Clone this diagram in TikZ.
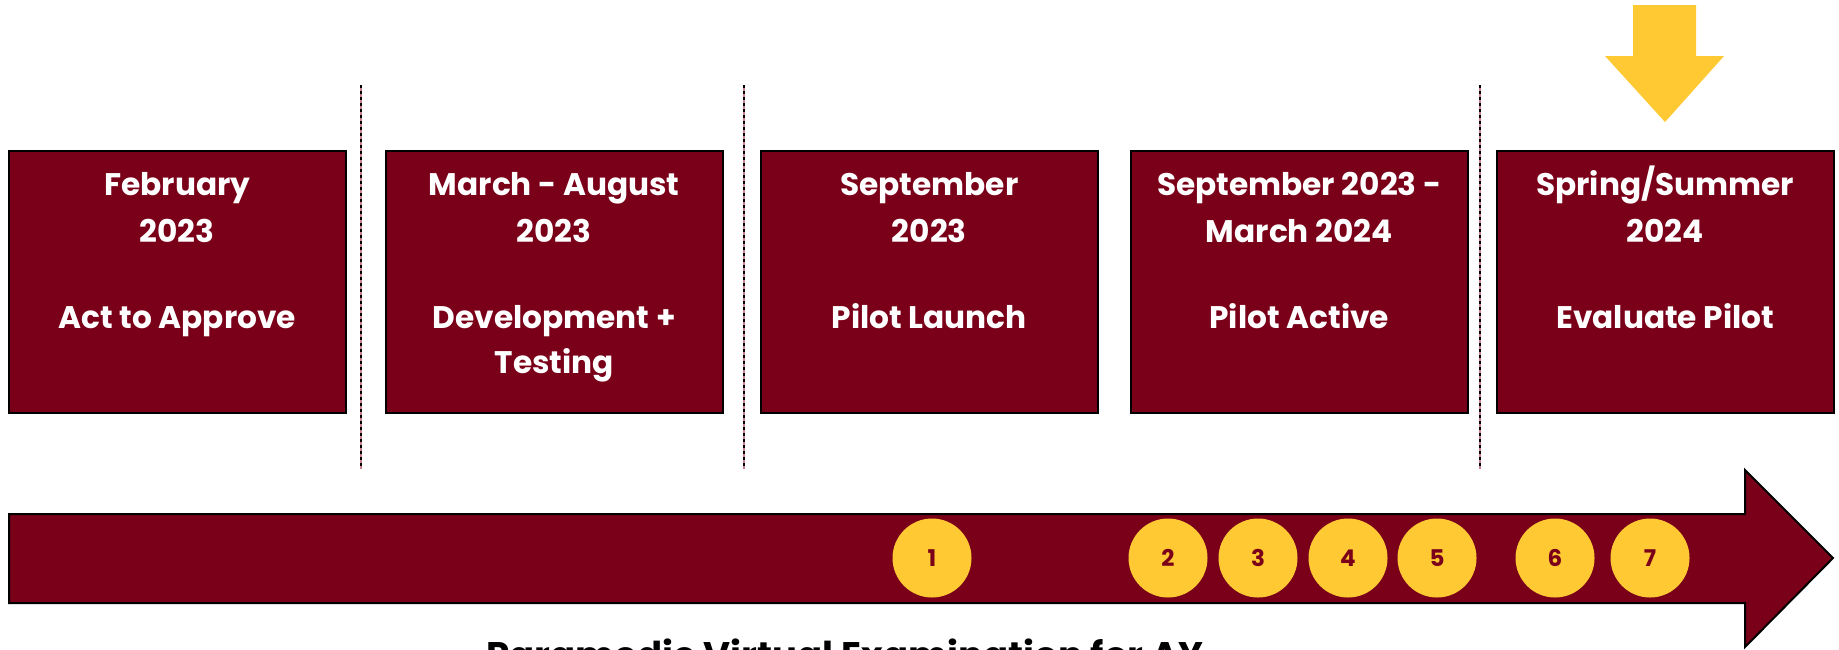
\documentclass[tikz,border=0pt]{standalone}
\usepackage{fontspec}
\setmainfont{Poppins}
\usetikzlibrary{calc}
\definecolor{umaroon}{HTML}{7A0019}
\definecolor{ugold}{HTML}{FFC933}
\definecolor{dashpink}{HTML}{C9808F}

\begin{document}
\begin{tikzpicture}[x=0.5pt,y=-0.5pt,
  phase/.style={draw=black, line width=0.75pt, fill=umaroon, minimum width=168.5pt,
    minimum height=131pt, inner sep=0pt, anchor=north west},
  ptext/.style={text=white, font=\fontsize{15.6}{18}\selectfont\bfseries, anchor=base, inner sep=0pt},
  marker/.style={circle, fill=ugold, minimum size=39.5pt, inner sep=0pt, text=umaroon,
    font=\fontsize{11.5}{13}\selectfont\bfseries},
  dividerbase/.style={draw=dashpink, line width=1pt},
  dividerdash/.style={draw=black, line width=1pt, dash pattern=on 1.5pt off 1.5pt},
  caption/.style={font=\fontsize{18.5}{22}\selectfont\bfseries, anchor=base, inner sep=0pt},
]
\clip (0,0) rectangle (1839,649);
\fill[white] (0,0) rectangle (1839,649);

% phase boxes
\node[phase] (b1) at (8,150) {};
\node[phase] (b2) at (385,150) {};
\node[phase] (b3) at (760,150) {};
\node[phase] (b4) at (1130,150) {};
\node[phase] (b5) at (1496,150) {};

% phase texts
\node[ptext] (b1a) at ($(b1.north)+(0,45)$) {February};
\node[ptext] (b1b) at ($(b1.north)+(0,92)$) {2023};
\node[ptext] (b1c) at ($(b1.north)+(0,178)$) {Act to Approve};

\node[ptext] (b2a) at ($(b2.north)+(0,45)$) {March - August};
\node[ptext] (b2b) at ($(b2.north)+(0,92)$) {2023};
\node[ptext] (b2c) at ($(b2.north)+(0,178)$) {Development +};
\node[ptext] (b2d) at ($(b2.north)+(0,223)$) {Testing};

\node[ptext] (b3a) at ($(b3.north)+(0,45)$) {September};
\node[ptext] (b3b) at ($(b3.north)+(0,92)$) {2023};
\node[ptext] (b3c) at ($(b3.north)+(0,178)$) {Pilot Launch};

\node[ptext] (b4a) at ($(b4.north)+(0,45)$) {September 2023 -};
\node[ptext] (b4b) at ($(b4.north)+(0,92)$) {March 2024};
\node[ptext] (b4c) at ($(b4.north)+(0,178)$) {Pilot Active};

\node[ptext] (b5a) at ($(b5.north)+(0,45)$) {Spring/Summer};
\node[ptext] (b5b) at ($(b5.north)+(0,92)$) {2024};
\node[ptext] (b5c) at ($(b5.north)+(0,178)$) {Evaluate Pilot};

% dividers between phases
\foreach \xd in {361,744,1480} {
  \draw[dividerbase] (\xd,85) -- (\xd,469);
  \draw[dividerdash] (\xd,85) -- (\xd,469);
}

% current-phase pointer
\fill[ugold] (1633,5) -- (1696,5) -- (1696,56) -- (1724,56) -- (1665,122)
  -- (1605,56) -- (1633,56) -- cycle;

% timeline arrow
\draw[fill=umaroon, draw=black, line width=1pt, line join=miter]
  (9,514) -- (1745,514) -- (1745,470) -- (1833,558) -- (1745,647) -- (1745,603)
  -- (9,603) -- cycle;

% milestones
\node[marker] (m1) at (932,558) {1};
\node[marker] (m2) at (1168,558) {2};
\node[marker] (m3) at (1258,558) {3};
\node[marker] (m4) at (1348,558) {4};
\node[marker] (m5) at (1437,558) {5};
\node[marker] (m6) at (1555,558) {6};
\node[marker] (m7) at (1650,558) {7};

% caption below the timeline
\node[caption] (cap) at (845,668) {Paramedic Virtual Examination for AY};
\end{tikzpicture}
\end{document}
